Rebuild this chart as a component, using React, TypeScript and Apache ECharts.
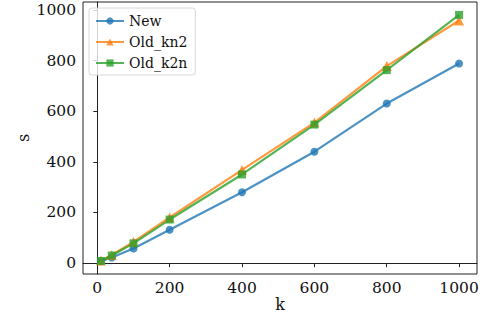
import React, { useEffect, useRef } from "react";
import * as echarts from "echarts";

const kValues = [10, 40, 100, 200, 400, 600, 800, 1000];
const newValues = [8, 22, 58, 132, 280, 440, 630, 788];
const oldKn2Values = [10, 32, 84, 180, 368, 555, 778, 958];
const oldK2nValues = [8, 30, 78, 172, 350, 547, 762, 980];
const xTicks = [0, 200, 400, 600, 800, 1000];
const yTicks = [0, 200, 400, 600, 800, 1000];

const FONT = "DejaVu Serif";

export default function App() {
  const ref = useRef<HTMLDivElement>(null);
  useEffect(() => {
    if (!ref.current) return;
    const chart = echarts.init(ref.current, undefined, { renderer: "svg" });
    const mk = (name: string, vals: number[], color: string, symbol: string, size: number) => ({
      name,
      type: "line",
      data: kValues.map((k, i) => [k, vals[i]]),
      symbol,
      symbolSize: size,
      showSymbol: true,
      lineStyle: { color, width: 2.2, opacity: 0.8 },
      itemStyle: { color, opacity: 0.8 },
      emphasis: { disabled: true },
    });
    chart.setOption({
      animation: false,
      textStyle: { fontFamily: FONT },
      grid: {
        left: 83,
        top: 2,
        right: 21,
        bottom: 46,
        show: true,
        borderColor: "#222",
        borderWidth: 1,
        backgroundColor: "transparent",
      },
      legend: {
        left: 89,
        top: 8,
        orient: "vertical",
        itemWidth: 28,
        itemHeight: 9,
        itemGap: 7,
        padding: [6, 8, 5, 6],
        backgroundColor: "rgba(255,255,255,0.8)",
        borderColor: "#d8d8d8",
        borderWidth: 1,
        borderRadius: 3,
        textStyle: { fontFamily: FONT, fontSize: 14, color: "#111" },
        data: ["New", "Old_kn2", "Old_k2n"],
      },
      xAxis: {
        type: "value",
        min: -39.5,
        max: 1049.5,
        name: "k",
        nameLocation: "middle",
        nameGap: 22,
        nameMoveOverlap: false,
        nameTextStyle: { fontFamily: FONT, fontSize: 16, color: "#111" },
        axisLine: { show: true, lineStyle: { color: "#222", width: 1 } },
        axisTick: { show: true, inside: false, length: 4, customValues: xTicks, lineStyle: { color: "#222" } },
        axisLabel: {
          customValues: xTicks,
          formatter: (v: number) => String(v),
          fontFamily: FONT,
          fontSize: 15.5,
          color: "#111",
          margin: 6,
        },
        splitLine: { show: false },
      },
      yAxis: {
        type: "value",
        min: -43,
        max: 1031,
        name: "s",
        nameLocation: "middle",
        nameGap: 52,
        nameMoveOverlap: false,
        nameTextStyle: { fontFamily: FONT, fontSize: 16, color: "#111" },
        axisLine: { show: true, lineStyle: { color: "#222", width: 1 } },
        axisTick: { show: true, inside: false, length: 4, customValues: yTicks, lineStyle: { color: "#222" } },
        axisLabel: {
          customValues: yTicks,
          formatter: (v: number) => String(v),
          fontFamily: FONT,
          fontSize: 15.5,
          color: "#111",
          margin: 7,
        },
        splitLine: { show: false },
      },
      series: [
        mk("New", newValues, "#1f77b4", "circle", 8),
        mk("Old_kn2", oldKn2Values, "#ff7f0e", "triangle", 10),
        mk("Old_k2n", oldK2nValues, "#2ca02c", "rect", 8),
      ],
    });
    return () => chart.dispose();
  }, []);
  return (
    <div
      ref={ref}
      style={{ position: "fixed", left: 0, top: 0, width: 498, height: 320, background: "#fff" }}
    />
  );
}
